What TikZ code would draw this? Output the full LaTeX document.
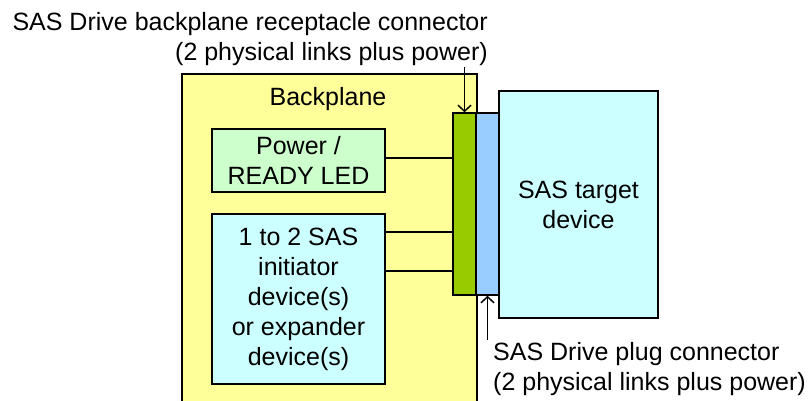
\documentclass[tikz,border=0pt]{standalone}
\usepackage{fontspec}
\setmainfont{Liberation Sans}
\usetikzlibrary{arrows.meta, positioning}
\definecolor{PlaneYellow}{HTML}{FFFF99}
\definecolor{LedGreen}{HTML}{CCFFCC}
\definecolor{DevCyan}{HTML}{CCFFFF}
\definecolor{RecGreen}{HTML}{99CC00}
\definecolor{PlugBlue}{HTML}{99CCFF}
\tikzset{
  box/.style={draw=black, line width=1.5pt, align=center, inner sep=0pt},
  label/.style={font=\fontsize{25}{30}\selectfont, inner sep=0pt},
  link/.style={line width=1.5pt},
  barb/.style={line width=1.5pt, -{Straight Barb[length=6pt, width=13pt, line width=1.5pt]}}
}

\begin{document}
\begin{tikzpicture}[x=1pt, y=-1pt, font=\fontsize{25}{30}\selectfont]
    \useasboundingbox (0,0) rectangle (808,400);
    \clip (0,0) rectangle (808,400);

    % Backplane board (runs off the bottom)
    \node[box, fill=PlaneYellow, anchor=north west, minimum width=295pt, minimum height=360pt] (plane) at (181,73) {};
    \node[label] (planetext) at (328,99) {Backplane};

    % Devices on the backplane
    \node[box, fill=LedGreen, minimum width=173pt, minimum height=63pt] (led) at (298.5,160.5) {Power /\\READY LED};
    \node[box, fill=DevCyan, minimum width=173pt, minimum height=170pt] (init) at (298.5,299) {1 to 2 SAS\\initiator\\device(s)\\or expander\\device(s)};

    % Connectors and target
    \node[box, fill=RecGreen, minimum width=23pt, minimum height=182pt] (recept) at (464.5,204) {};
    \node[box, fill=PlugBlue, minimum width=23pt, minimum height=182pt] (plug) at (487.5,204) {};
    \node[box, fill=DevCyan, minimum width=159pt, minimum height=227pt] (target) at (578.5,204.5) {SAS target\\device};

    % Links to the receptacle
    \coordinate (l1) at ([yshift=2.5pt]led.east);
    \coordinate (i1) at ([yshift=67pt]init.east);
    \coordinate (i2) at ([yshift=28pt]init.east);
    \draw[link] (l1) -- (l1 -| recept.west);
    \draw[link] (i1) -- (i1 -| recept.west);
    \draw[link] (i2) -- (i2 -| recept.west);

    % Labels with pointers
    \node[label, align=right, anchor=north east] (reclabel) at (488,12) {SAS Drive backplane receptacle connector\\(2 physical links plus power)};
    \node[label, align=left, anchor=north west] (pluglabel) at (493,342) {SAS Drive plug connector\\(2 physical links plus power)};
    \coordinate (rtail) at (464.5,67);
    \coordinate (ptail) at (487.5,340);
    \draw[barb] (rtail) -- (recept.north);
    \draw[barb] (ptail) -- (plug.south);
\end{tikzpicture}
\end{document}
